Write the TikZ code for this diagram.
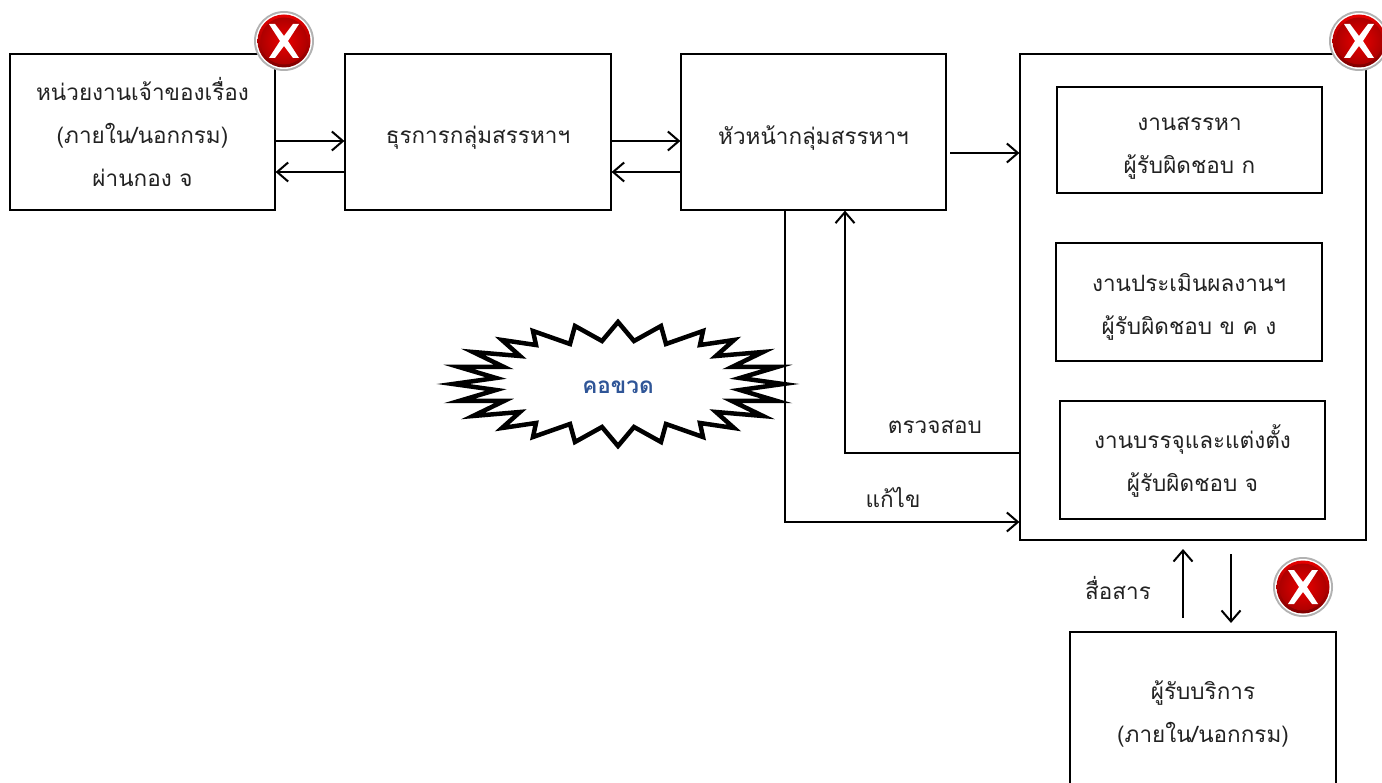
\documentclass[tikz,border=0pt]{standalone}
\usepackage{fontspec}
\setmainfont[Script=Thai]{Loma}
\usetikzlibrary{arrows.meta}
\definecolor{inktext}{HTML}{222222}
\definecolor{bottleneck}{HTML}{2F5597}
\tikzset{
  box/.style={draw=black,line width=1.2pt,fill=white,inner sep=0pt},
  boxtext/.style={align=center,inner sep=0pt,text=inktext,font=\fontsize{22.5}{43}\selectfont},
  conn/.style={draw=black,line width=2pt,-{Straight Barb[length=11pt,width=19pt,line width=2pt]}},
  lbl/.style={text=inktext,inner sep=0pt,font=\fontsize{22.5}{26}\selectfont},
  pics/badge/.style={code={
    \fill[black!30] (0,0) circle (30);
    \fill[white] (0,0) circle (28);
    \shade[top color=red!90!black,bottom color=red!50!black] (0,0) circle (26.5);
    \shade[inner color=red!92!black,outer color=red!68!black] (0,0) circle (23.5);
    \fill[white] (-15,-17) -- (-9,-17) -- (0,-5) -- (9,-17) -- (15,-17) -- (4,0) -- (15,17) -- (9,17) -- (0,5) -- (-9,17) -- (-15,17) -- (-4,0) -- cycle;
  }}
}
\begin{document}
\begin{tikzpicture}[x=1pt,y=-1pt]
\useasboundingbox (0,0) rectangle (1382,783);
\clip (0,0) rectangle (1382,783);
\node[box,minimum width=265pt,minimum height=156pt] (a) at (142.5,132) {};
\node[box,minimum width=266pt,minimum height=156pt] (b) at (478,132) {};
\node[box,minimum width=265pt,minimum height=156pt] (c) at (813.5,132) {};
\node[box,minimum width=346pt,minimum height=486pt] (d) at (1193,297) {};
\node[box,minimum width=265pt,minimum height=106pt] (e) at (1189.5,140) {};
\node[box,minimum width=266pt,minimum height=118pt] (f) at (1189,302) {};
\node[box,minimum width=265pt,minimum height=118pt] (g) at (1192.5,460) {};
\node[box,minimum width=266pt,minimum height=190pt] (h) at (1203,727) {};
\node[boxtext] (at) at (a.center) {หน่วยงานเจ้าของเรื่อง\\(ภายใน/นอกกรม)\\ผ่านกอง จ};
\node[boxtext] (bt) at ([yshift=-6pt]b.center) {ธุรการกลุ่มสรรหาฯ};
\node[boxtext] (ct) at ([yshift=-6pt]c.center) {หัวหน้ากลุ่มสรรหาฯ};
\node[boxtext] (et) at ([yshift=-8pt]e.center) {งานสรรหา\\ผู้รับผิดชอบ ก};
\node[boxtext] (ft) at ([yshift=-5pt]f.center) {งานประเมินผลงานฯ\\ผู้รับผิดชอบ ข ค ง};
\node[boxtext] (gt) at ([yshift=-1pt]g.center) {งานบรรจุและแต่งตั้ง\\ผู้รับผิดชอบ จ};
\node[boxtext] (ht) at ([yshift=13pt]h.center) {ผู้รับบริการ\\(ภายใน/นอกกรม)};
% burst
\draw[shift={(618,384)},line width=4.5pt,fill=white,miter limit=30]
 (0,-62) -- (16,-43) -- (43,-58) -- (48,-40) -- (85,-53) -- (82,-39) -- (116,-44) -- (98,-28) -- (145,-32) -- (114,-17) -- (159,-17) -- (122,-6) -- (165,0)
 -- (122,6) -- (159,17) -- (114,17) -- (145,32) -- (98,28) -- (116,44) -- (82,39) -- (85,53) -- (48,40) -- (43,58) -- (16,43) -- (0,62)
 -- (-16,43) -- (-43,58) -- (-48,40) -- (-85,53) -- (-82,39) -- (-116,44) -- (-98,28) -- (-145,32) -- (-114,17) -- (-159,17) -- (-122,6) -- (-165,0)
 -- (-122,-6) -- (-159,-17) -- (-114,-17) -- (-145,-32) -- (-98,-28) -- (-116,-44) -- (-82,-39) -- (-85,-53) -- (-48,-40) -- (-43,-58) -- (-16,-43) -- cycle;
\node[text=bottleneck,inner sep=0pt,font=\fontsize{22.5}{26}\selectfont\bfseries] (k) at (618,387) {คอขวด};
% connectors
\draw[conn] ([yshift=-9pt]a.east) -- ([yshift=-9pt]b.west);
\draw[conn] ([yshift=-40pt]b.west) -- ([yshift=-40pt]a.east);
\draw[conn] ([yshift=-9pt]b.east) -- ([yshift=-9pt]c.west);
\draw[conn] ([yshift=-40pt]c.west) -- ([yshift=-40pt]b.east);
\coordinate (cout) at (950,153);
\draw[conn] (cout) -- (cout -| d.west);
\coordinate (turnfix) at (785,522);
\draw[conn] (turnfix |- c.south) -- (turnfix) -- (turnfix -| d.west);
\coordinate (turncheck) at (845,453);
\draw[conn] (turncheck -| d.west) -- (turncheck) -- (turncheck |- c.south);
\coordinate (upa) at (1183,618);
\coordinate (upb) at (1183,549);
\coordinate (dna) at (1231,554);
\coordinate (dnb) at (1231,623);
\draw[conn] (upa) -- (upb);
\draw[conn] (dna) -- (dnb);
\node[lbl] (l1) at (935,427) {ตรวจสอบ};
\node[lbl] (l2) at (893,497) {แก้ไข};
\node[lbl] (l3) at (1118,588) {สื่อสาร};
\pic at (284,41) {badge};
\pic at (1359,41) {badge};
\pic at (1303,587) {badge};
\end{tikzpicture}
\end{document}
